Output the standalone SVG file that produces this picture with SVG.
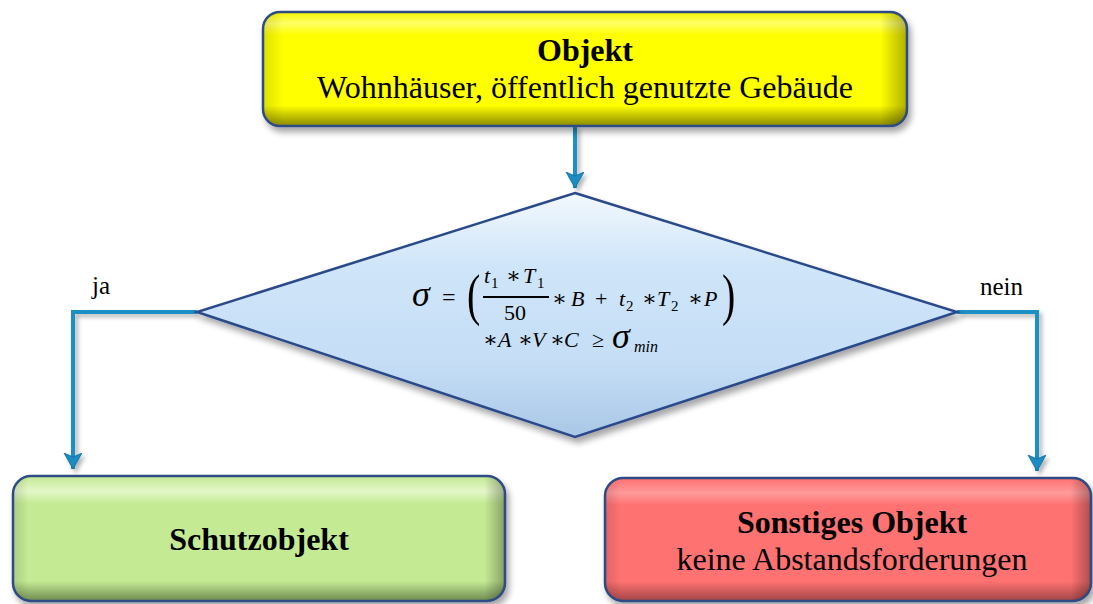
<svg xmlns="http://www.w3.org/2000/svg" width="1093" height="604" viewBox="0 0 1093 604">
<defs>
  <filter id="sh" x="-10%" y="-10%" width="130%" height="140%">
    <feDropShadow dx="3" dy="5" stdDeviation="3" flood-color="#000" flood-opacity="0.35"/>
  </filter>
  <filter id="lsh" x="-20%" y="-20%" width="160%" height="160%">
    <feDropShadow dx="3" dy="3" stdDeviation="2" flood-color="#000" flood-opacity="0.3"/>
  </filter>
  <linearGradient id="gY" x1="0" y1="0" x2="0" y2="1">
    <stop offset="0" stop-color="#F4F400"/>
    <stop offset="0.1" stop-color="#FFFF66"/>
    <stop offset="0.2" stop-color="#FFFF00"/>
    <stop offset="0.82" stop-color="#FFFF00"/>
    <stop offset="1" stop-color="#8A8A00"/>
  </linearGradient>
  <linearGradient id="gG" x1="0" y1="0" x2="0" y2="1">
    <stop offset="0" stop-color="#C3E894"/>
    <stop offset="0.12" stop-color="#E4F7C8"/>
    <stop offset="0.22" stop-color="#C4EB94"/>
    <stop offset="0.84" stop-color="#C4EB94"/>
    <stop offset="1" stop-color="#6F8A50"/>
  </linearGradient>
  <linearGradient id="gR" x1="0" y1="0" x2="0" y2="1">
    <stop offset="0" stop-color="#FF7070"/>
    <stop offset="0.12" stop-color="#FF9A9A"/>
    <stop offset="0.22" stop-color="#FF7272"/>
    <stop offset="0.84" stop-color="#FF7272"/>
    <stop offset="1" stop-color="#A04545"/>
  </linearGradient>
  <linearGradient id="gSide" x1="0" y1="0" x2="1" y2="0">
    <stop offset="0" stop-color="#000" stop-opacity="0.12"/>
    <stop offset="0.03" stop-color="#000" stop-opacity="0"/>
    <stop offset="0.96" stop-color="#000" stop-opacity="0"/>
    <stop offset="1" stop-color="#000" stop-opacity="0.3"/>
  </linearGradient>
  <linearGradient id="gD" x1="0" y1="0" x2="0" y2="1">
    <stop offset="0" stop-color="#F2F8FD"/>
    <stop offset="0.3" stop-color="#CFE5F9"/>
    <stop offset="0.7" stop-color="#C5DEF6"/>
    <stop offset="1" stop-color="#A9C7E6"/>
  </linearGradient>
  <marker id="arr" markerUnits="userSpaceOnUse" markerWidth="20" markerHeight="20" refX="16" refY="9" orient="auto">
    <path d="M0,0 L16,9 L0,18 L4,9 Z" fill="#1A8BC1" stroke="#0F6E9C" stroke-width="0.8"/>
  </marker>
  <style>
    .box { stroke:#2E4B85; stroke-width:2.5; }
    .t { font-family:"Liberation Serif","Times New Roman",serif; fill:#000; }
    .b { font-weight:bold; }
    .m { font-family:"Liberation Serif","DejaVu Serif",serif; font-style:italic; fill:#000; }
    .mu { font-family:"Liberation Serif","DejaVu Serif",serif; fill:#000; }
    .con { fill:none; stroke:#1B8FC4; stroke-width:4; }
  </style>
</defs>

<g id="connectors" filter="url(#lsh)">
  <path class="con" d="M575,126 V188" marker-end="url(#arr)"/>
  <path class="con" d="M197,312 H73 V469" marker-end="url(#arr)"/>
  <path class="con" d="M957,312 H1037 V471" marker-end="url(#arr)"/>
</g>

<g id="node-objekt">
  <rect x="263" y="12" width="644" height="114" rx="17" fill="url(#gY)" class="box" filter="url(#sh)"/>
  <rect x="264" y="13" width="642" height="112" rx="16" fill="url(#gSide)"/>
  <text class="t b" x="585" y="61" font-size="32" text-anchor="middle">Objekt</text>
  <text class="t" x="585" y="98" font-size="32" text-anchor="middle">Wohnhäuser, öffentlich genutzte Gebäude</text>
</g>

<g id="node-decision">
  <polygon points="575,193 957,312 575,437 197,312" fill="url(#gD)" stroke="#2B4A8A" stroke-width="2.5" filter="url(#sh)"/>
  <g font-size="22">
  <text class="m" x="412" y="306" font-size="36">σ</text>
  <text class="mu" x="442" y="305" font-size="24">=</text>
  <text class="mu" x="0" y="-7" font-size="40" transform="translate(467,324) scale(1,1.45)">(</text>
  <text class="m" x="484" y="283">t</text>
  <text class="mu" x="491" y="288" font-size="15">1</text>
  <text class="mu" x="506" y="283">∗</text>
  <text class="m" x="523" y="283">T</text>
  <text class="mu" x="537" y="288" font-size="15">1</text>
  <line x1="483" y1="297" x2="549" y2="297" stroke="#000" stroke-width="2"/>
  <text class="mu" x="504" y="320">50</text>
  <text class="mu" x="552" y="306">∗</text>
  <text class="m" x="571" y="306">B</text>
  <text class="mu" x="595" y="306">+</text>
  <text class="m" x="619" y="306">t</text>
  <text class="mu" x="626" y="311" font-size="15">2</text>
  <text class="mu" x="642" y="306">∗</text>
  <text class="m" x="657" y="306">T</text>
  <text class="mu" x="671" y="311" font-size="15">2</text>
  <text class="mu" x="688" y="306">∗</text>
  <text class="m" x="704" y="306">P</text>
  <text class="mu" x="0" y="-7" font-size="40" transform="translate(722,324) scale(1,1.45)">)</text>
  <text class="mu" x="483" y="347">∗</text>
  <text class="m" x="498" y="347">A</text>
  <text class="mu" x="518" y="347">∗</text>
  <text class="m" x="532" y="347">V</text>
  <text class="mu" x="550" y="347">∗</text>
  <text class="m" x="564" y="347">C</text>
  <text class="mu" x="592" y="347">≥</text>
  <text class="m" x="612" y="348" font-size="36">σ</text>
  <text class="m" x="634" y="352" font-size="16">min</text>
  </g>
</g>

<g id="node-schutzobjekt">
  <rect x="13" y="476" width="492" height="125" rx="18" fill="url(#gG)" class="box" filter="url(#sh)"/>
  <rect x="14" y="477" width="490" height="123" rx="17" fill="url(#gSide)"/>
  <text class="t b" x="259" y="550" font-size="32" text-anchor="middle">Schutzobjekt</text>
</g>

<g id="node-sonstiges">
  <rect x="605" y="478" width="486" height="123" rx="18" fill="url(#gR)" class="box" filter="url(#sh)"/>
  <rect x="606" y="479" width="484" height="121" rx="17" fill="url(#gSide)"/>
  <text class="t b" x="852" y="533" font-size="32" text-anchor="middle">Sonstiges Objekt</text>
  <text class="t" x="852" y="570" font-size="32" text-anchor="middle">keine Abstandsforderungen</text>
</g>

<g id="labels">
  <text class="t" x="92" y="294" font-size="25">ja</text>
  <text class="t" x="980" y="295" font-size="25">nein</text>
</g>
</svg>
